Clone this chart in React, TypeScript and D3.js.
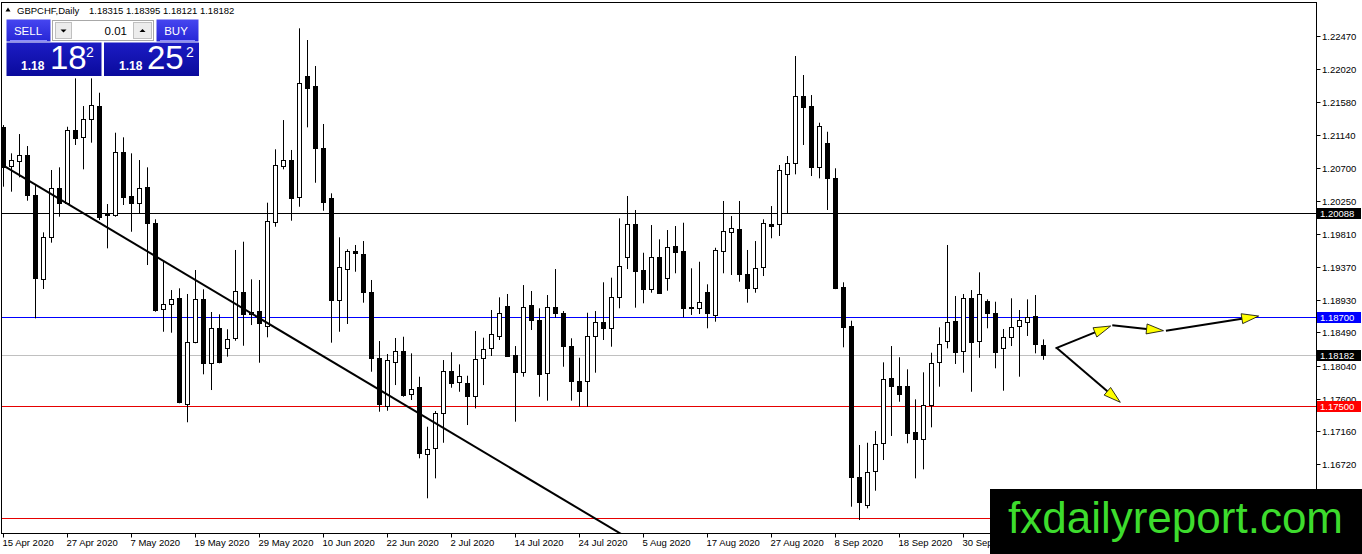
import * as d3 from 'd3'

// GBPCHF daily candles, 15 Apr 2020 .. 14 Oct 2020 (bar index = trading day)
const opens = [
  1.21251, 1.20728, 1.20795, 1.20871, 1.20334, 1.19202, 1.19766, 1.20424, 1.20231, 1.21207,
  1.21109, 1.21351, 1.21529, 1.20092, 1.20066, 1.20908, 1.20321, 1.20223, 1.20438, 1.19954,
  1.18799, 1.18870, 1.18947, 1.17523, 1.18364, 1.18933, 1.18074, 1.18544, 1.18275, 1.18410,
  1.19027, 1.18732, 1.18776, 1.18575, 1.19976, 1.20724, 1.20804, 1.20303, 1.21932, 1.21798,
  1.20965, 1.20290, 1.18924, 1.19336, 1.19582, 1.19542, 1.19036, 1.18145, 1.17504, 1.18095,
  1.18239, 1.17658, 1.17760, 1.16852, 1.16932, 1.17402, 1.17970, 1.17827, 1.17805, 1.17639,
  1.18149, 1.18275, 1.18445, 1.18843, 1.18181, 1.17961, 1.18857, 1.18655, 1.17948, 1.18826,
  1.18745, 1.18306, 1.17840, 1.17840, 1.18445, 1.18633, 1.18544, 1.18968, 1.19506, 1.19945,
  1.19327, 1.19068, 1.19498, 1.19215, 1.19649, 1.19582, 1.18830, 1.18813, 1.19027, 1.18723,
  1.19586, 1.19841, 1.19878, 1.19273, 1.19089, 1.19371, 1.19945, 1.19941, 1.20612, 1.20760,
  1.21664, 1.21529, 1.20714, 1.21037, 1.20558, 1.19095, 1.18575, 1.16551, 1.16171, 1.16631,
  1.17000, 1.17872, 1.17773, 1.17769, 1.17147, 1.17053, 1.17514, 1.18087, 1.18373, 1.18642,
  1.18243, 1.18947, 1.18373, 1.18911, 1.18745, 1.18275, 1.18431, 1.18575, 1.18625, 1.18713,
  1.18315,
]
const highs = [
  1.21274, 1.20894, 1.21153, 1.20992, 1.20468, 1.19833, 1.20670, 1.20706, 1.21251, 1.21901,
  1.21529, 1.21901, 1.21708, 1.20213, 1.21171, 1.21109, 1.20894, 1.20804, 1.20706, 1.20008,
  1.19438, 1.19058, 1.19081, 1.19005, 1.19327, 1.19068, 1.18763, 1.18732, 1.18531, 1.19596,
  1.19707, 1.19202, 1.19193, 1.20231, 1.20948, 1.21341, 1.20939, 1.22573, 1.22416, 1.22067,
  1.21288, 1.20357, 1.19766, 1.19605, 1.19663, 1.19716, 1.19193, 1.18373, 1.18199, 1.18414,
  1.18431, 1.18208, 1.17894, 1.17222, 1.17433, 1.18118, 1.18222, 1.18060, 1.17907, 1.18508,
  1.18418, 1.18790, 1.18960, 1.19005, 1.18306, 1.19125, 1.19045, 1.18813, 1.18991, 1.19340,
  1.18776, 1.18410, 1.18149, 1.18753, 1.18776, 1.19162, 1.19224, 1.20021, 1.20321, 1.20133,
  1.19559, 1.19931, 1.19739, 1.19864, 1.19918, 1.19962, 1.19350, 1.19438, 1.19135, 1.19626,
  1.20254, 1.20052, 1.20254, 1.19596, 1.19716, 1.20008, 1.20186, 1.20737, 1.20858, 1.22201,
  1.21946, 1.21677, 1.21305, 1.21184, 1.20693, 1.19162, 1.18646, 1.16977, 1.17007, 1.17165,
  1.18087, 1.18306, 1.18155, 1.17993, 1.17590, 1.17953, 1.18216, 1.18557, 1.19663, 1.18978,
  1.19005, 1.19058, 1.19296, 1.18933, 1.18901, 1.18535, 1.18947, 1.18790, 1.18933, 1.18991,
  1.18395,
]
const lows = [
  1.20446, 1.20379, 1.20572, 1.20258, 1.18678, 1.19072, 1.19694, 1.20043, 1.20223, 1.21006,
  1.20679, 1.21037, 1.19998, 1.19618, 1.20043, 1.20200, 1.19841, 1.20088, 1.19394, 1.18767,
  1.18498, 1.18485, 1.17537, 1.17282, 1.18343, 1.17926, 1.17715, 1.18074, 1.18163, 1.18377,
  1.18310, 1.18588, 1.18082, 1.18423, 1.19908, 1.20679, 1.19989, 1.20177, 1.21243, 1.20499,
  1.20123, 1.18351, 1.18498, 1.18602, 1.19304, 1.18888, 1.17961, 1.17424, 1.17437, 1.17782,
  1.17625, 1.17581, 1.16798, 1.16261, 1.16529, 1.17007, 1.17746, 1.17692, 1.17245, 1.17469,
  1.17782, 1.18172, 1.18387, 1.18163, 1.17290, 1.17894, 1.18521, 1.17625, 1.17572, 1.18686,
  1.18028, 1.17572, 1.17491, 1.17491, 1.17948, 1.18387, 1.18297, 1.18813, 1.19340, 1.18821,
  1.18880, 1.19022, 1.19005, 1.19049, 1.19283, 1.18692, 1.18723, 1.18736, 1.18544, 1.18633,
  1.19283, 1.19260, 1.19170, 1.18888, 1.19022, 1.19246, 1.19753, 1.19784, 1.20088, 1.20612,
  1.21006, 1.20589, 1.20558, 1.20133, 1.19070, 1.18289, 1.16148, 1.15969, 1.16126, 1.16363,
  1.16775, 1.17098, 1.17558, 1.17000, 1.16529, 1.16650, 1.17214, 1.17760, 1.18275, 1.18065,
  1.17948, 1.17692, 1.18149, 1.18544, 1.18007, 1.17706, 1.18306, 1.17894, 1.18441, 1.18208,
  1.18121,
]
const closes = [
  1.20714, 1.20804, 1.20871, 1.20334, 1.19215, 1.19766, 1.20424, 1.20231, 1.21207, 1.21096,
  1.21351, 1.21543, 1.20043, 1.20070, 1.20908, 1.20311, 1.20231, 1.20424, 1.19954, 1.18790,
  1.18866, 1.18942, 1.17558, 1.18364, 1.18933, 1.18074, 1.18544, 1.18095, 1.18396, 1.19045,
  1.18732, 1.18767, 1.18611, 1.19985, 1.20737, 1.20804, 1.20298, 1.21834, 1.21775, 1.20961,
  1.20244, 1.18924, 1.19363, 1.19582, 1.19551, 1.19036, 1.18149, 1.17523, 1.18118, 1.18239,
  1.17648, 1.17725, 1.16865, 1.16919, 1.17410, 1.17970, 1.17813, 1.17903, 1.17639, 1.18132,
  1.18262, 1.18463, 1.18745, 1.18172, 1.17961, 1.18834, 1.18655, 1.17926, 1.18826, 1.18745,
  1.18310, 1.17840, 1.17706, 1.18441, 1.18633, 1.18544, 1.18968, 1.19385, 1.19945, 1.19318,
  1.19072, 1.19498, 1.19014, 1.19640, 1.19565, 1.18821, 1.18813, 1.18893, 1.18745, 1.19596,
  1.19851, 1.19887, 1.19269, 1.19089, 1.19350, 1.19954, 1.19922, 1.20670, 1.20760, 1.21664,
  1.21520, 1.20714, 1.21261, 1.20558, 1.19081, 1.18565, 1.16543, 1.16215, 1.16618, 1.16990,
  1.17859, 1.17773, 1.17662, 1.17142, 1.17053, 1.17514, 1.18074, 1.18329, 1.18625, 1.18222,
  1.18947, 1.18364, 1.19001, 1.18745, 1.18230, 1.18431, 1.18565, 1.18655, 1.18700, 1.18329,
  1.18182,
]

const priceTicks = [
  1.2247, 1.2202, 1.2158, 1.2114, 1.207, 1.2025, 1.1981, 1.1937, 1.1893, 1.1849, 1.1804,
  1.176, 1.1716, 1.1672,
]
const dateTickBars = [0, 8, 16, 24, 32, 40, 48, 56, 64, 72, 80, 88, 96, 104, 112, 120]
const dateTickLabels = [
  '15 Apr 2020', '27 Apr 2020', '7 May 2020', '19 May 2020', '29 May 2020', '10 Jun 2020',
  '22 Jun 2020', '2 Jul 2020', '14 Jul 2020', '24 Jul 2020', '5 Aug 2020', '17 Aug 2020',
  '27 Aug 2020', '8 Sep 2020', '18 Sep 2020', '30 Sep 2020',
]

// horizontal levels drawn on the chart
const levelPrices = [1.20088, 1.187, 1.18182, 1.175, 1.16]
const levelLabeled = [true, true, true, true, false]

// trend line anchors [bar, price]
const trendStart = [0, 1.2073]
const trendEnd = [66, 1.165]

// yellow arrows [fromBar, fromPrice, toBar, toPrice]
const arrows = [
  [131.5, 1.18275, 138.4, 1.18575],
  [138.6, 1.18584, 145.0, 1.18512],
  [145.3, 1.18512, 156.9, 1.18709],
  [131.7, 1.18275, 139.6, 1.1755],
]

const W = 1362
const H = 554
const PLOT = { left: 1.5, top: 2.5, right: 1316.5, bottom: 533.5 }
const FONT = "Tahoma, 'Liberation Sans', Arial, sans-serif"
const LEVEL_LINE = ['#000000', '#0000ff', '#c0c0c0', '#e60000', '#e60000']
const LEVEL_BOX = ['#000000', '#0000ff', '#000000', '#ff0000', '#ff0000']

export default function App() {
  const x = d3.scaleLinear().domain([0, 164]).range([3.5, 1315.5])
  const y = d3.scaleLinear().domain([1.15795, 1.22913]).range([533, 3])
  const fmt = d3.format('.5f')

  const trendSlope = (trendEnd[1] - trendStart[1]) / (trendEnd[0] - trendStart[0])
  const trendFar = 120
  const trendPath = d3.line()([
    [x(trendStart[0]), y(trendStart[1])],
    [x(trendFar), y(trendStart[1] + trendSlope * (trendFar - trendStart[0]))],
  ])

  const candles = opens.map((o, i) => {
    const h = highs[i]
    const l = lows[i]
    const c = closes[i]
    const cx = x(i)
    const top = Math.round(y(Math.max(o, c)))
    const bot = Math.round(y(Math.min(o, c)))
    const up = c >= o
    return (
      <g key={i}>
        <line x1={cx} x2={cx} y1={y(h)} y2={y(l)} stroke="#000" strokeWidth={1} />
        {bot - top < 1 ? (
          <line x1={cx - 2.5} x2={cx + 2.5} y1={top + 0.5} y2={top + 0.5} stroke="#000" strokeWidth={1} />
        ) : (
          <rect
            x={cx - 2}
            y={top + 0.5}
            width={4}
            height={bot - top}
            fill={up ? '#fff' : '#000'}
            stroke="#000"
            strokeWidth={1}
          />
        )}
      </g>
    )
  })

  const arrowMarks = arrows.map(([b0, p0, b1, p1], i) => {
    const x0 = x(b0)
    const y0 = y(p0)
    const x1 = x(b1)
    const y1 = y(p1)
    const ang = Math.atan2(y1 - y0, x1 - x0)
    const len = 17
    const hw = 5
    const bx = x1 - Math.cos(ang) * len
    const by = y1 - Math.sin(ang) * len
    const nx = -Math.sin(ang) * hw
    const ny = Math.cos(ang) * hw
    const head = `M${x1},${y1}L${bx + nx},${by + ny}L${bx - nx},${by - ny}Z`
    return (
      <g key={i}>
        <line x1={x0} y1={y0} x2={bx} y2={by} stroke="#000" strokeWidth={2} />
        <path d={head} fill="#ffff00" stroke="#000" strokeWidth={0.8} />
      </g>
    )
  })

  return (
    <svg
      width={W}
      height={H}
      style={{ position: 'fixed', left: 0, top: 0, background: '#fff' }}
      fontFamily={FONT}
    >
      <defs>
        <clipPath id="plot-clip">
          <rect x={PLOT.left} y={PLOT.top} width={PLOT.right - PLOT.left} height={PLOT.bottom - PLOT.top} />
        </clipPath>
        <linearGradient id="btn" x1="0" y1="0" x2="0" y2="1">
          <stop offset="0" stopColor="#4646f0" />
          <stop offset="1" stopColor="#2626d6" />
        </linearGradient>
        <linearGradient id="big" x1="0" y1="0" x2="0" y2="1">
          <stop offset="0" stopColor="#1c1cc4" />
          <stop offset="1" stopColor="#0a0a9c" />
        </linearGradient>
      </defs>

      <rect width={W} height={H} fill="#fff" />

      {/* levels, candles, trend line */}
      <g clipPath="url(#plot-clip)">
        {levelPrices.map((p, i) => (
          <line
            key={p}
            x1={PLOT.left}
            x2={PLOT.right}
            y1={Math.round(y(p)) + 0.5}
            y2={Math.round(y(p)) + 0.5}
            stroke={LEVEL_LINE[i]}
            strokeWidth={1}
          />
        ))}
        {candles}
        <path d={trendPath ?? ''} stroke="#000" strokeWidth={2} fill="none" />
        {arrowMarks}
      </g>

      {/* frame */}
      <rect
        x={PLOT.left}
        y={PLOT.top}
        width={PLOT.right - PLOT.left}
        height={PLOT.bottom - PLOT.top}
        fill="none"
        stroke="#000"
        strokeWidth={1}
      />

      {/* price axis */}
      {priceTicks.map((p) => {
        const ty = Math.round(y(p)) + 0.5
        return (
          <g key={p}>
            <line x1={PLOT.right} x2={PLOT.right + 4} y1={ty} y2={ty} stroke="#000" />
            <text x={1322} y={ty + 3.5} fontSize={9.5} fill="#000">
              {fmt(p)}
            </text>
          </g>
        )
      })}
      {levelPrices.map((p, i) =>
        levelLabeled[i] ? (
          <g key={p}>
            <rect x={1317} y={Math.round(y(p)) - 5} width={44} height={11} fill={LEVEL_BOX[i]} />
            <text x={1320} y={Math.round(y(p)) + 4} fontSize={9.5} fill="#fff">
              {fmt(p)}
            </text>
          </g>
        ) : null,
      )}

      {/* date axis */}
      {dateTickBars.map((b, i) => (
        <g key={b}>
          <line x1={x(b)} x2={x(b)} y1={PLOT.bottom} y2={PLOT.bottom + 4} stroke="#000" />
          <text x={x(b) - 1} y={546} fontSize={9.5} fill="#000">
            {dateTickLabels[i]}
          </text>
        </g>
      ))}

      {/* header */}
      <path d="M5.5,11.5L8,7.5L10.5,11.5Z" fill="#000" />
      <text x={17} y={13.5} fontSize={9.5} fill="#000">
        GBPCHF,Daily
      </text>
      <text x={89} y={13.5} fontSize={9.5} fill="#000">
        {[opens[130], highs[130], lows[130], closes[130]].map(fmt).join(' ')}
      </text>

      {/* one-click trading panel */}
      <g>
        <rect x={6.5} y={19.5} width={44} height={22} fill="url(#btn)" />
        <text x={28} y={34.5} fontSize={11.5} fill="#fff" textAnchor="middle">
          SELL
        </text>
        <line x1={10} x2={47} y1={40.5} y2={40.5} stroke="#8c8cff" />
        <rect x={52.5} y={20.5} width={101} height={20} fill="#fff" stroke="#a8a8a8" />
        <rect x={55.5} y={22.5} width={16} height={16} fill="#ececec" stroke="#c0c0c0" />
        <path d="M60.5,29.5L66.5,29.5L63.5,32.5Z" fill="#000" />
        <text x={127} y={34.5} fontSize={11.5} fill="#000" textAnchor="end">
          0.01
        </text>
        <rect x={133.5} y={22.5} width={18} height={16} fill="#ececec" stroke="#c0c0c0" />
        <path d="M139.5,32L145.5,32L142.5,29Z" fill="#000" />
        <rect x={156.5} y={19.5} width={42} height={22} fill="url(#btn)" />
        <text x={176} y={34.5} fontSize={11.5} fill="#fff" textAnchor="middle">
          BUY
        </text>
        <line x1={160} x2={195} y1={40.5} y2={40.5} stroke="#8c8cff" />

        <rect x={6.5} y={42.5} width={95} height={33.5} fill="url(#big)" />
        <text x={21} y={70} fontSize={12} fontWeight="bold" fill="#fff">
          1.18
        </text>
        <text x={50} y={69} fontSize={33} fill="#fff">
          18
        </text>
        <text x={86} y={56.5} fontSize={14} fill="#fff">
          2
        </text>

        <rect x={104} y={42.5} width={95} height={33.5} fill="url(#big)" />
        <text x={119} y={70} fontSize={12} fontWeight="bold" fill="#fff">
          1.18
        </text>
        <text x={147} y={69} fontSize={33} fill="#fff">
          25
        </text>
        <text x={186} y={56.5} fontSize={14} fill="#fff">
          2
        </text>
      </g>

      {/* watermark */}
      <rect x={990} y={489} width={W - 990} height={H - 489} fill="#000" />
      <text x={1008} y={533} fontSize={44} fill="#3ddc2d" fontFamily="'Liberation Sans', Arial, sans-serif">
        fxdailyreport.com
      </text>
    </svg>
  )
}
